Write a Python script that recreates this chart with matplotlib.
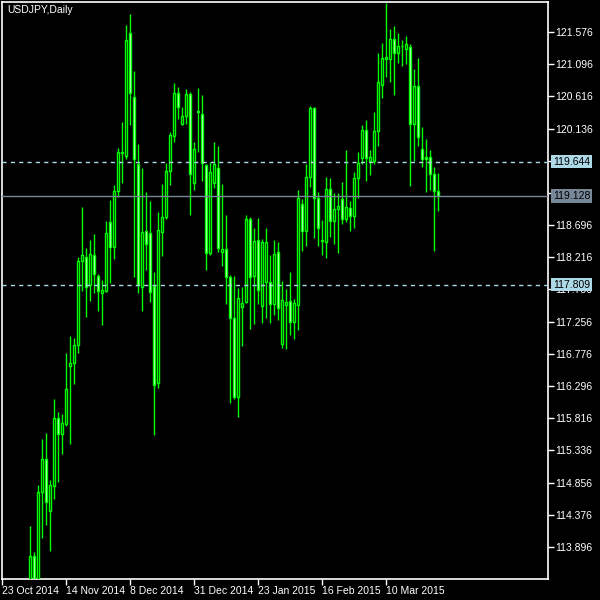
import numpy as np
import matplotlib
matplotlib.use("Agg")
import matplotlib.pyplot as plt
from matplotlib.patches import Rectangle

# daily USDJPY candles, first visible bar is 7 bars after 23 Oct 2014
_first = 7
_open = [113.10, 113.762, 113.30, 114.716, 115.208, 114.433, 114.806, 115.820, 115.581, 115.730,
         116.595, 116.640, 116.908, 118.161, 118.221, 117.803, 118.250, 117.937, 117.684, 117.714,
         118.743, 118.370, 119.205, 119.771, 119.727, 121.561, 120.607, 119.607, 117.773, 118.608,
         118.579, 117.788, 116.342, 118.594, 118.817, 119.503, 120.025, 120.666, 120.204, 120.323,
         120.651, 119.324, 120.383, 120.353, 119.592, 118.280, 119.324, 119.548, 118.295, 118.340,
         117.922, 117.311, 116.133, 117.475, 117.550, 118.787, 117.937, 118.474, 117.490, 117.848,
         117.848, 117.520, 118.295, 116.923, 117.505, 117.565, 117.251, 117.505, 119.011, 118.608,
         119.414, 120.443, 119.100, 118.459, 118.444, 119.235, 118.757, 118.936, 119.086, 118.787,
         118.951, 118.832, 119.399, 119.697, 120.115, 119.652, 119.652, 120.100, 120.786, 121.173,
         121.173, 121.471, 121.263, 121.367, 121.322, 121.352, 120.204, 120.771, 119.831, 119.712,
         119.712, 119.458, 119.205]
_high = [114.209, 113.822, 114.821, 115.507, 115.596, 114.895, 116.103, 115.909, 115.880, 116.789,
         117.043, 117.013, 118.221, 118.966, 118.355, 118.474, 118.564, 117.967, 117.878, 118.757,
         119.071, 119.294, 119.846, 120.234, 121.680, 121.844, 120.994, 119.906, 119.548, 119.190,
         119.056, 117.997, 118.892, 119.309, 119.622, 120.085, 120.815, 120.756, 120.457, 120.726,
         120.681, 119.936, 120.741, 120.636, 119.600, 119.637, 119.936, 119.876, 119.309, 118.847,
         117.952, 117.937, 117.758, 117.773, 118.847, 118.817, 118.653, 118.802, 118.489, 118.653,
         118.250, 118.474, 118.444, 117.863, 117.743, 117.997, 117.595, 119.220, 119.086, 119.608,
         120.472, 120.457, 119.190, 118.772, 119.414, 119.399, 119.174, 119.174, 119.339, 119.816,
         119.056, 119.488, 119.786, 120.189, 120.264, 119.816, 120.383, 121.263, 121.412, 122.008,
         121.621, 121.665, 121.561, 121.456, 121.516, 121.397, 121.024, 121.188, 120.159, 119.980,
         119.816, 119.563, 119.473]
_low = [113.00, 113.05, 113.20, 114.030, 114.224, 113.836, 114.612, 114.866, 115.283, 115.701,
        115.432, 116.327, 116.789, 117.714, 117.326, 117.565, 117.684, 117.415, 117.207, 117.699,
        117.833, 118.191, 119.115, 119.324, 119.682, 120.189, 117.922, 117.684, 117.415, 118.027,
        117.550, 115.566, 116.266, 118.236, 118.787, 119.294, 119.936, 120.279, 120.189, 120.204,
        118.847, 119.220, 119.786, 119.354, 118.027, 118.250, 119.250, 118.300, 118.087, 117.520,
        116.043, 116.100, 115.835, 116.893, 117.535, 117.147, 117.221, 117.520, 117.236, 117.311,
        117.236, 117.356, 117.281, 116.864, 116.849, 117.058, 116.998, 117.132, 118.310, 118.385,
        119.264, 118.504, 118.385, 118.250, 118.206, 118.519, 118.415, 118.280, 118.713, 118.743,
        118.608, 118.653, 119.100, 119.607, 119.354, 119.443, 119.607, 119.876, 120.592, 120.905,
        120.830, 120.636, 121.114, 121.069, 121.099, 119.279, 119.652, 119.876, 119.563, 119.190,
        119.220, 118.310, 118.907]
_close = [113.762, 113.30, 114.716, 115.208, 114.567, 114.821, 115.820, 115.581, 115.745, 116.252,
          116.640, 116.908, 118.161, 118.250, 117.773, 118.265, 117.967, 117.714, 117.729, 118.579,
          118.370, 119.205, 119.786, 119.786, 121.456, 120.666, 119.682, 117.803, 118.594, 118.415,
          117.699, 116.312, 118.623, 118.817, 119.503, 120.040, 120.666, 120.457, 120.323, 120.651,
          119.458, 119.831, 120.398, 119.622, 118.280, 119.488, 119.607, 118.355, 118.340, 117.922,
          117.311, 116.133, 117.609, 117.535, 118.787, 117.922, 118.459, 117.729, 118.444, 118.444,
          117.520, 118.265, 117.460, 117.580, 117.550, 117.251, 117.535, 119.100, 118.608, 119.414,
          120.443, 119.100, 118.653, 118.474, 119.235, 118.757, 118.936, 118.981, 118.787, 118.966,
          118.832, 119.399, 119.622, 120.115, 119.697, 119.712, 120.100, 120.830, 121.188, 121.203,
          121.471, 121.263, 121.367, 121.370, 121.397, 120.204, 120.771, 120.010, 119.682, 119.682,
          119.458, 119.205, 119.128]

_dateLabels = ["23 Oct 2014", "14 Nov 2014", "8 Dec 2014", "31 Dec 2014",
               "23 Jan 2015", "16 Feb 2015", "10 Mar 2015"]
_priceTicks = [113.896 + 0.48 * k for k in range(17)]
_hiddenTicks = [119.656, 119.176]   # covered by the price boxes
_levelsDashed = [119.644, 117.809]
_levelLast = 119.128

_green = "#00ff00"
_blue = "#add8e6"
_slate = "#778899"
_font = "Liberation Sans"

_fig = plt.figure(figsize=(6, 6), dpi=100, facecolor="black")
_ax = _fig.add_axes([2 / 600, 21 / 600, 546 / 600, 577 / 600])
_ax.set_facecolor("black")
_ax.set_xlim(0, 136.5)
_ax.set_ylim(113.419, 122.023)

for _i in range(len(_open)):
	_x = _first + _i
	_o, _h, _l, _c = _open[_i], _high[_i], _low[_i], _close[_i]
	_ax.vlines(_x, _l, _h, color=_green, lw=1.0, zorder=2)
	_bottom = min(_o, _c)
	_height = max(abs(_c - _o), 0.005)
	_fill = "white" if _c < _o else "black"
	_ax.add_patch(Rectangle((_x - 0.27, _bottom), 0.54, _height,
	                        facecolor=_fill, edgecolor=_green, lw=1.0, zorder=3))

for _lvl in _levelsDashed:
	_ax.axhline(_lvl, color=_blue, lw=1.0, ls=(0, (3, 3)), zorder=4)
_ax.axhline(_levelLast, color=_slate, lw=1.0, zorder=4)

for _s in _ax.spines.values():
	_s.set_color("white")
	_s.set_linewidth(1.2)

_ax.yaxis.tick_right()
_ax.set_yticks(_priceTicks)
_ax.set_yticklabels(["" if any(abs(_p - _h) < 0.001 for _h in _hiddenTicks) else "%.3f" % _p
                     for _p in _priceTicks], fontfamily=_font)
_ax.set_xticks([16 * k for k in range(len(_dateLabels))])
_ax.set_xticklabels(_dateLabels, fontfamily=_font)
for _lab in _ax.get_xticklabels():
	_lab.set_ha("left")
_ax.tick_params(colors="white", labelsize=7.5, length=4, width=1, pad=1)

_boxes = [(119.644, _blue), (117.809, _blue), (_levelLast, _slate)]
for _val, _col in _boxes:
	_ax.text(1.009, _val, "%.3f" % _val, transform=_ax.get_yaxis_transform(),
	         color="black", fontsize=7.5, fontfamily=_font, va="center", ha="left",
	         zorder=10, clip_on=False,
	         bbox=dict(facecolor=_col, edgecolor="none", pad=1.3))

_fig.text(7 / 600, 1 - 10 / 600, "USDJPY,Daily", color="white", fontsize=7.5,
          fontfamily=_font, va="center", ha="left")

plt.savefig("out.png", dpi=100, facecolor="black")
